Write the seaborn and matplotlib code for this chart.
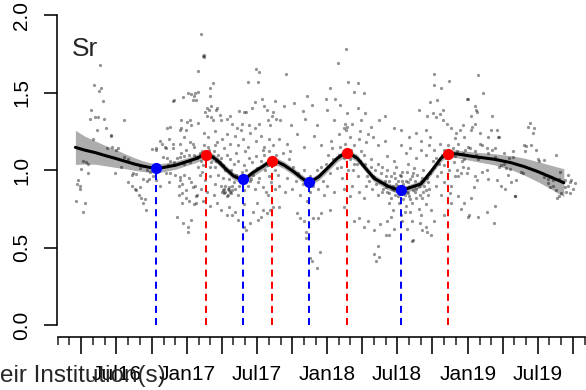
import numpy as np
import pandas as pd
import matplotlib
matplotlib.use("Agg")
import matplotlib.pyplot as plt
import matplotlib.dates as mdates
from matplotlib.ticker import FuncFormatter
import seaborn as sns

# all x values are months counted from 1 Jan 2016

# raw observations (month, Sr)
obs_2016 = [
    (2.5, 0.80), (2.6, 0.91), (2.7, 0.935), (2.85, 0.88), (2.9, 0.90), (3.0, 1.005), (3.1, 1.06), (3.15, 0.73),
    (3.3, 0.79), (3.4, 1.05), (3.6, 0.98), (3.6, 1.04), (3.7, 1.33), (3.8, 1.39), (4.0, 1.20), (4.05, 1.55),
    (4.2, 1.34), (4.3, 1.26), (4.4, 1.34), (4.5, 1.51), (4.56, 1.68), (4.7, 1.53), (4.86, 1.445), (4.95, 1.33),
    (5.1, 1.27), (5.2, 1.14), (5.5, 1.225), (5.55, 1.22), (5.6, 1.15), (5.86, 0.98), (6.0, 1.13), (6.1, 1.14),
    (6.4, 1.02), (6.6, 1.085), (6.66, 1.32), (7.0, 1.07), (7.0, 0.925), (7.3, 0.90), (7.3, 0.97), (7.4, 0.98),
    (7.6, 0.88), (7.7, 0.975), (7.7, 0.87), (7.9, 0.84), (8.0, 1.01), (8.0, 0.89), (8.1, 0.82), (8.25, 0.945),
    (8.3, 0.785), (8.4, 0.81), (8.5, 0.74), (8.6, 1.0), (8.6, 0.93), (8.8, 0.94), (8.9, 0.99), (9.0, 1.135),
    (9.15, 0.96), (9.4, 1.14), (9.4, 1.13), (9.4, 0.935), (9.7, 1.19), (9.7, 0.90), (9.9, 1.17), (9.95, 1.085),
    (10.1, 1.15), (10.25, 1.14), (10.25, 0.98), (10.3, 1.271), (10.5, 1.20), (10.5, 0.925), (10.6, 1.277),
    (10.8, 1.447), (10.8, 1.14), (10.8, 1.17), (10.9, 1.45), (11.4, 1.258), (11.4, 1.17), (11.4, 1.085),
    (11.4, 0.955), (11.5, 1.32), (11.55, 1.269), (11.7, 1.47), (11.7, 0.66), (11.8, 1.21), (11.95, 1.13),
    (11.95, 0.87), (11.95, 1.26), (10.3, 1.08), (10.6, 1.06), (10.9, 1.05), (11.2, 1.075), (11.5, 1.11),
    (11.8, 1.09), (10.9, 1.03), (11.8, 1.04), (10.4, 1.03), (10.6, 0.98), (11.0, 0.965), (11.4, 0.935),
    (11.6, 0.91), (11.8, 0.965), (11.3, 0.90), (11.3, 0.84), (11.6, 0.85), (11.9, 0.82), (11.6, 0.79), (11.2, 0.70),
]

obs_2017 = [
    (12.0, 1.312), (12.1, 1.495), (12.1, 0.63), (12.1, 0.60), (12.3, 1.323), (12.3, 1.18), (12.4, 1.29),
    (12.4, 1.49), (12.4, 0.68), (12.5, 1.45), (12.5, 1.17), (12.5, 0.89), (12.6, 1.48), (12.6, 1.15),
    (12.7, 1.495), (12.8, 1.45), (12.8, 1.085), (12.8, 0.83), (12.8, 0.79), (13.0, 1.305), (13.0, 1.505),
    (13.0, 1.64), (12.2, 0.95), (12.4, 0.92), (12.7, 0.90), (12.9, 0.84), (12.3, 1.05), (12.6, 1.10),
    (12.9, 1.08), (12.2, 0.80), (12.6, 0.78), (12.2, 1.10),
    (13.2, 1.875), (13.4, 1.735), (13.5, 1.74), (13.5, 1.73), (14.2, 1.56), (14.0, 1.53), (14.0, 1.48),
    (17.2, 1.565), (17.9, 1.65), (18.2, 1.63), (18.05, 1.565),
    (13.7, 1.40), (13.9, 1.39), (14.1, 1.41), (14.5, 1.39), (14.6, 1.40), (16.5, 1.38), (16.85, 1.375),
    (17.1, 1.375), (17.6, 1.40), (17.8, 1.44), (18.4, 1.46), (18.6, 1.41), (18.85, 1.39), (19.4, 1.375),
    (19.5, 1.445), (13.6, 1.375), (13.7, 1.35), (14.1, 1.34), (14.2, 1.32), (14.8, 1.355), (14.9, 1.32),
    (15.4, 1.33), (15.7, 1.35), (15.9, 1.30), (16.3, 1.27), (16.6, 1.26), (16.7, 1.30), (17.3, 1.29),
    (17.8, 1.27), (18.2, 1.30), (18.9, 1.32), (19.1, 1.29), (19.3, 1.35), (19.6, 1.33),
    (13.5, 1.24), (13.8, 1.21), (14.4, 1.25), (15.0, 1.20), (15.4, 1.23), (15.7, 1.17), (16.1, 1.22),
    (16.4, 1.16), (16.8, 1.20), (17.2, 1.15), (17.4, 1.24), (17.9, 1.19), (18.3, 1.22), (18.6, 1.15),
    (19.0, 1.20), (19.4, 1.16), (14.4, 1.16), (15.2, 1.14),
    (13.1, 1.11), (13.8, 1.08), (14.2, 1.09), (14.5, 1.06), (14.8, 1.05), (15.1, 1.03), (15.4, 1.10),
    (15.7, 1.07), (16.0, 1.04), (16.4, 1.06), (16.9, 1.03), (17.3, 1.08), (17.6, 1.05), (17.9, 1.09),
    (18.3, 1.06), (18.6, 1.10), (18.9, 1.03), (19.3, 1.05), (13.4, 1.03), (14.0, 1.02),
    (13.1, 0.97), (13.6, 0.935), (14.0, 0.96), (14.4, 0.91), (14.9, 0.90), (15.2, 0.88), (15.3, 0.86),
    (15.6, 0.87), (15.8, 0.85), (16.1, 0.88), (16.4, 0.84), (15.3, 0.90), (15.0, 0.86), (15.9, 0.90),
    (16.7, 0.92), (17.2, 0.90), (17.5, 0.94), (17.8, 0.88), (18.1, 0.92), (18.5, 0.89), (18.8, 0.86),
    (19.2, 0.92), (19.5, 0.88), (18.9, 0.84), (13.7, 0.86), (14.3, 0.84), (13.2, 0.88),
    (13.4, 0.80), (14.0, 0.77), (14.6, 0.79), (14.9, 0.74), (15.6, 0.76), (16.1, 0.73), (16.9, 0.78),
    (17.7, 0.73), (18.3, 0.70), (18.5, 0.74), (18.85, 0.72), (19.1, 0.74), (19.4, 0.76), (18.0, 0.79),
    (15.4, 0.71), (15.85, 0.71), (16.4, 0.68), (17.1, 0.61), (16.9, 0.63), (18.1, 0.68), (17.4, 0.66),
    (15.1, 0.87), (15.2, 0.85), (15.5, 0.88), (15.5, 0.84), (15.7, 0.86), (15.9, 0.87), (15.4, 0.83),
    (15.6, 0.89), (13.3, 1.12), (13.6, 1.07), (13.9, 1.13), (14.3, 1.12), (13.2, 1.06), (14.7, 1.10),
    (13.0, 1.02), (13.3, 0.99), (13.5, 1.16), (13.8, 1.15), (14.1, 1.05), (14.4, 1.02), (14.7, 0.97),
    (14.9, 1.08), (15.1, 0.95), (15.3, 1.00), (15.6, 0.94), (15.8, 1.00), (16.0, 0.92), (16.2, 0.97),
    (16.5, 0.90), (16.7, 0.99), (16.9, 0.87), (17.1, 1.00), (17.4, 0.93), (17.7, 0.97), (18.0, 1.01),
    (18.2, 0.95), (18.5, 1.13), (18.7, 1.00), (19.0, 0.96), (19.2, 1.08), (19.5, 1.00), (14.6, 1.18),
    (16.2, 1.11), (17.0, 1.12),
    (20.5, 1.62), (22.3, 1.48), (23.9, 1.46),
    (20.3, 1.41), (21.2, 1.43), (21.9, 1.38), (22.7, 1.42), (20.0, 1.32), (20.9, 1.29), (22.1, 1.33),
    (23.1, 1.29), (19.9, 1.20), (20.6, 1.17), (21.4, 1.23), (22.0, 1.15), (22.9, 1.22), (23.5, 1.16),
    (19.7, 1.06), (20.1, 1.04), (20.7, 1.07), (21.1, 1.02), (21.5, 0.98), (22.0, 1.00), (22.5, 0.96),
    (23.1, 1.00), (23.5, 1.02), (23.9, 1.04), (19.9, 0.90), (20.4, 0.86), (21.0, 0.88), (21.7, 0.84),
    (22.5, 0.86), (23.2, 0.88), (23.7, 0.84), (22.3, 0.80), (19.9, 0.76), (21.4, 0.72), (21.7, 0.69),
    (22.0, 0.67), (22.8, 0.69), (23.2, 0.69), (23.5, 0.72), (22.2, 0.60), (22.2, 0.56), (22.5, 0.43),
    (22.7, 0.41), (23.1, 0.37), (23.4, 0.47), (19.0, 1.12), (19.6, 1.10), (20.2, 1.11), (19.8, 0.97),
    (20.6, 0.95), (21.3, 0.93), (22.8, 0.90), (23.6, 0.93), (21.9, 0.91), (20.8, 1.12),
]

obs_2018 = [
    (25.6, 1.78), (24.9, 1.69), (25.8, 1.57), (24.2, 1.53), (26.6, 1.56), (26.3, 1.505), (27.1, 1.495),
    (24.7, 1.46), (24.0, 1.39), (25.1, 1.42), (25.7, 1.37), (26.6, 1.40), (27.2, 1.37), (28.4, 1.32),
    (24.6, 1.32), (25.4, 1.27), (26.1, 1.30), (26.9, 1.32), (27.7, 1.28), (28.9, 1.35), (25.6, 1.26),
    (25.5, 1.30), (25.7, 1.28), (24.3, 1.19), (25.0, 1.23), (25.5, 1.17), (25.9, 1.21), (26.3, 1.16),
    (26.7, 1.20), (27.3, 1.18), (27.9, 1.21), (28.3, 1.16), (28.9, 1.19), (26.8, 1.25), (27.5, 1.23),
    (24.5, 1.07), (25.0, 1.10), (25.4, 1.08), (25.9, 1.07), (26.4, 1.09), (26.8, 1.06), (27.2, 1.04),
    (27.7, 1.02), (28.1, 1.00), (28.6, 0.98), (29.0, 0.96), (26.5, 1.04), (27.1, 1.10), (27.7, 1.07),
    (28.3, 1.04), (28.7, 1.02), (25.2, 1.02), (24.2, 0.98), (26.2, 1.00), (28.0, 0.955), (28.9, 0.93),
    (24.0, 0.90), (24.6, 0.86), (25.4, 0.88), (26.1, 0.90), (26.7, 0.86), (27.3, 0.90), (27.8, 0.88),
    (28.3, 0.84), (28.7, 0.86), (29.0, 0.89), (27.1, 0.82), (25.9, 0.83), (24.2, 0.74), (26.3, 0.67),
    (26.7, 0.69), (27.1, 0.63), (27.5, 0.67), (28.0, 0.61), (28.5, 0.65), (29.0, 0.58), (25.4, 0.76),
    (28.3, 0.51), (28.0, 0.46), (28.4, 0.44), (28.2, 0.41),
    (24.1, 1.10), (24.4, 1.14), (24.8, 1.01), (25.1, 1.15), (25.3, 0.95), (25.6, 1.13), (25.8, 1.00),
    (26.0, 1.13), (26.3, 1.04), (26.6, 0.96), (26.9, 1.12), (27.4, 0.96), (27.6, 0.93), (27.9, 0.96),
    (28.2, 0.91), (28.5, 0.92), (28.8, 0.88),
    (33.1, 1.62), (34.4, 1.575), (33.1, 1.55), (33.7, 1.53), (32.8, 1.44), (33.4, 1.45), (33.85, 1.39),
    (31.85, 1.39), (32.5, 1.35), (33.0, 1.37), (33.3, 1.34), (33.6, 1.36), (33.9, 1.32), (34.2, 1.30),
    (34.6, 1.27), (35.0, 1.24), (35.3, 1.26), (34.9, 1.205), (35.7, 1.21), (30.3, 1.26), (31.0, 1.21),
    (31.6, 1.24), (32.0, 1.19), (32.4, 1.26), (32.8, 1.21), (29.7, 1.27),
    (29.1, 1.09), (29.7, 1.06), (30.3, 1.16), (30.7, 1.11), (31.1, 1.14), (31.6, 1.08), (32.0, 1.13),
    (32.4, 1.10), (32.7, 1.16), (33.1, 1.13), (33.6, 1.17), (34.0, 1.13), (34.3, 1.16), (34.7, 1.14),
    (35.2, 1.17), (35.6, 1.11), (34.9, 1.09), (35.7, 1.07),
    (29.1, 1.00), (29.4, 0.96), (29.7, 0.98), (30.0, 0.93), (30.3, 0.96), (30.5, 0.91), (30.8, 0.99),
    (31.1, 0.94), (31.4, 0.90), (31.7, 0.97), (32.0, 0.93), (32.2, 1.00), (32.5, 0.95), (32.8, 0.98),
    (33.1, 1.02), (33.4, 0.96), (33.7, 0.99), (34.0, 1.03), (34.4, 1.00), (34.9, 0.96), (35.4, 0.98),
    (29.6, 0.90), (30.1, 0.89), (30.7, 0.93), (31.2, 0.96), (31.8, 0.90), (32.4, 0.87), (32.6, 0.92),
    (29.25, 0.93), (30.4, 0.99), (31.0, 0.89), (31.5, 0.93), (32.1, 0.95), (33.3, 0.90), (34.0, 0.92),
    (34.6, 0.90),
    (29.1, 0.86), (29.4, 0.82), (29.8, 0.84), (30.1, 0.79), (30.4, 0.85), (30.7, 0.77), (31.0, 0.83),
    (31.2, 0.79), (31.5, 0.86), (31.8, 0.75), (32.1, 0.82), (32.4, 0.78), (32.6, 0.84), (32.9, 0.74),
    (29.6, 0.74), (30.3, 0.71), (31.1, 0.73), (32.0, 0.71), (33.7, 0.84), (34.6, 0.79), (35.4, 0.75),
    (29.7, 0.87), (30.8, 0.86), (32.2, 0.86),
    (29.1, 0.67), (29.7, 0.62), (29.25, 0.58), (30.4, 0.67), (30.8, 0.62), (31.2, 0.67), (32.1, 0.61),
    (32.4, 0.63), (32.5, 0.60), (31.2, 0.54), (33.1, 0.67), (34.0, 0.71), (31.3, 0.55), (32.9, 0.58),
    (34.5, 0.85), (35.2, 0.83), (35.7, 0.79), (35.05, 1.0), (35.6, 1.02), (35.2, 0.96), (35.9, 1.456),
    (35.6, 1.29), (35.9, 0.98),
    (29.5, 0.88), (29.9, 0.91), (30.2, 0.86), (30.6, 0.88), (30.9, 0.85), (31.3, 0.87), (30.0, 0.83),
    (30.5, 0.81), (29.3, 0.79), (31.6, 0.82), (30.2, 0.97), (29.9, 1.02), (30.9, 1.04), (31.4, 1.01),
    (29.3, 0.85), (29.8, 0.95), (30.0, 0.90), (30.4, 0.93), (30.6, 0.84), (30.9, 0.92), (31.1, 0.81),
    (31.3, 0.98), (31.6, 0.88), (31.9, 0.84), (32.3, 0.90), (32.7, 0.88), (33.0, 1.06), (33.3, 1.08),
    (33.5, 1.04), (33.8, 1.10), (34.1, 1.08), (34.5, 1.10), (34.8, 1.05), (35.1, 1.12), (35.5, 1.06),
    (35.8, 1.13), (29.4, 0.70), (30.6, 0.73), (31.9, 0.66),
]

obs_2019 = [
    (36.0, 1.46), (36.7, 1.39), (37.3, 1.495), (36.9, 1.61), (36.6, 1.41), (36.8, 1.375), (38.05, 1.35),
    (36.3, 1.26), (38.5, 1.26), (38.6, 1.215), (37.0, 1.24), (37.7, 1.21), (36.4, 1.28), (36.3, 1.35),
    (36.6, 1.30), (38.0, 1.26), (36.0, 1.15), (36.6, 1.12), (37.2, 1.16), (37.7, 1.11), (38.3, 1.14),
    (36.9, 1.07), (36.2, 1.14), (36.7, 1.10), (37.0, 1.17), (37.6, 1.14), (36.0, 1.01), (36.6, 0.96),
    (37.2, 0.99), (37.7, 0.94), (36.8, 0.935), (37.6, 1.0), (36.5, 0.89), (38.5, 0.935), (36.1, 0.71),
    (36.9, 0.70), (37.6, 0.73), (38.2, 0.66), (38.3, 0.77), (40.0, 0.83), (36.3, 0.82), (36.0, 0.70),
    (38.05, 1.13), (38.3, 1.085), (39.05, 1.11), (39.5, 1.075), (39.9, 1.085), (40.8, 1.16),
    (41.3, 1.305), (41.1, 1.28), (41.65, 1.27), (41.55, 1.24), (38.7, 1.215), (41.0, 1.155), (41.4, 1.16),
    (41.8, 1.13), (40.85, 1.12), (39.85, 1.125), (43.5, 1.10), (42.0, 1.07), (42.1, 1.055),
    (38.85, 1.03), (39.1, 1.04), (38.7, 1.02), (39.3, 1.01), (39.6, 1.005), (39.4, 0.97), (39.7, 0.925),
    (40.1, 0.935), (40.55, 0.99), (40.7, 0.98), (38.85, 0.90), (39.2, 0.88), (40.0, 0.835),
    (42.3, 0.98), (42.55, 0.955), (42.85, 0.945), (43.1, 0.955), (43.85, 0.99), (42.85, 0.915),
    (43.0, 0.89), (43.3, 0.90), (43.55, 0.87), (44.0, 0.85), (44.3, 0.89), (44.6, 0.895), (44.85, 0.935),
    (45.15, 0.915), (45.0, 0.875), (44.7, 0.85), (44.4, 0.855), (43.65, 0.82), (43.8, 0.83), (44.3, 0.935),
    (43.3, 0.935), (43.8, 0.945), (44.6, 0.97), (44.75, 0.925), (42.5, 1.065),
]

# smoothed trend with its confidence half-width
curve_month = [2.49, 3.3, 4.2, 5.0, 5.9, 6.8, 7.6, 8.2, 8.8, 9.35, 9.8, 10.28, 11.1, 12.0, 12.85, 13.25,
               13.65, 14.1, 14.57, 15.28, 16.0, 16.4, 16.77, 17.15, 17.57, 18.43, 18.9, 19.3, 19.8, 20.3,
               21.14, 21.85, 22.1, 22.42, 22.8, 23.28, 24.14, 24.85, 25.3, 25.7, 26.1, 26.57, 27.28, 28.0,
               28.85, 29.14, 29.7, 30.28, 30.7, 31.13, 32.0, 32.85, 33.7, 33.95, 34.28, 34.7, 35.13, 36.57,
               38.28, 39.7, 40.85, 42.0, 43.13, 44.2]
curve_value = [1.146, 1.128, 1.112, 1.094, 1.075, 1.055, 1.037, 1.026, 1.017, 1.012, 1.014, 1.020, 1.032,
               1.054, 1.075, 1.090, 1.097, 1.088, 1.065, 1.011, 0.961, 0.947, 0.940, 0.952, 0.979, 1.020,
               1.044, 1.056, 1.050, 1.032, 0.989, 0.946, 0.933, 0.925, 0.934, 0.957, 1.021, 1.075, 1.098,
               1.107, 1.097, 1.075, 1.010, 0.946, 0.910, 0.897, 0.880, 0.871, 0.877, 0.888, 0.910, 0.989,
               1.075, 1.092, 1.103, 1.106, 1.103, 1.086, 1.069, 1.047, 1.021, 0.989, 0.953, 0.918]
curve_half = [0.110, 0.090, 0.075, 0.066, 0.058, 0.047, 0.040, 0.035, 0.031, 0.029, 0.028, 0.027, 0.026,
              0.025, 0.025, 0.025, 0.025, 0.024, 0.024, 0.023, 0.023, 0.023, 0.023, 0.023, 0.023, 0.023,
              0.023, 0.023, 0.023, 0.023, 0.023, 0.023, 0.023, 0.023, 0.023, 0.023, 0.023, 0.023, 0.023,
              0.023, 0.023, 0.023, 0.023, 0.022, 0.022, 0.022, 0.022, 0.022, 0.022, 0.022, 0.023, 0.023,
              0.023, 0.023, 0.024, 0.024, 0.025, 0.029, 0.036, 0.045, 0.055, 0.065, 0.077, 0.090]

# local maxima (red) and minima (blue) of the trend
peak_month = [13.65, 19.3, 25.7, 34.28]
peak_value = [1.097, 1.056, 1.107, 1.103]
trough_month = [9.35, 16.77, 22.42, 30.28]
trough_value = [1.012, 0.940, 0.925, 0.871]


def to_date(months):
    return pd.Timestamp("2016-01-01") + pd.to_timedelta(np.asarray(months, dtype=float) * 30.4375, unit="D")


obs = pd.DataFrame(obs_2016 + obs_2017 + obs_2018 + obs_2019, columns=["month", "Sr"])
obs["date"] = to_date(obs["month"])
curve_dates = to_date(curve_month)
lo = np.array(curve_value) - np.array(curve_half)
hi = np.array(curve_value) + np.array(curve_half)

sns.set_style("ticks")
plt.rcParams["font.family"] = ["Liberation Sans", "DejaVu Sans"]

fig = plt.figure(figsize=(5.86, 3.9), dpi=100)
ax = fig.add_axes([57 / 586, 52.6 / 390, 529 / 586, 334.8 / 390])

ax.fill_between(curve_dates, lo, hi, color="#adadad", linewidth=0, zorder=1)
sns.scatterplot(data=obs, x="date", y="Sr", s=5.5, color="black", alpha=0.42, linewidth=0, ax=ax, zorder=2)
sns.lineplot(x=curve_dates, y=curve_value, color="black", linewidth=2.2, ax=ax, zorder=3)

ax.vlines(to_date(peak_month), 0, peak_value, colors="red", linewidth=1.45,
          linestyles=[(0, (3.5, 2.5))], zorder=4)
ax.vlines(to_date(trough_month), 0, trough_value, colors="blue", linewidth=1.45,
          linestyles=[(0, (3.5, 2.5))], zorder=4)
sns.scatterplot(x=to_date(peak_month), y=peak_value, color="red", s=65, linewidth=0, ax=ax, zorder=5)
sns.scatterplot(x=to_date(trough_month), y=trough_value, color="blue", s=65, linewidth=0, ax=ax, zorder=5)

ax.set_xlim(pd.Timestamp("2016-01-29"), pd.Timestamp("2019-11-04"))
ax.set_ylim(-0.08, 2.08)
ax.set_xlabel("")
ax.set_ylabel("")

for side in ["top", "right"]:
    ax.spines[side].set_visible(False)
for side in ["left", "bottom"]:
    ax.spines[side].set_linewidth(1.15)
    ax.spines[side].set_color("black")
ax.spines["left"].set_bounds(0, 2)
ax.spines["bottom"].set_bounds(mdates.date2num(pd.Timestamp("2016-02-01")),
                               mdates.date2num(pd.Timestamp("2019-11-01")))

ax.set_yticks([0, 0.5, 1.0, 1.5, 2.0])
ax.set_yticklabels(["0.0", "0.5", "1.0", "1.5", "2.0"])
ax.xaxis.set_major_locator(mdates.MonthLocator(bymonth=[1, 4, 7, 10]))
ax.xaxis.set_minor_locator(mdates.MonthLocator())


def month_label(x, pos):
    d = mdates.num2date(x)
    return d.strftime("%b%y") if d.month in (1, 7) else ""


ax.xaxis.set_major_formatter(FuncFormatter(month_label))
ax.tick_params(axis="x", which="major", length=12.2, width=1.15, labelsize=15, pad=8, colors="black")
ax.tick_params(axis="x", which="minor", length=5.8, width=1.15)
ax.tick_params(axis="y", length=9.4, width=1.15, labelsize=15, pad=9, labelrotation=90, colors="black")
for lbl in ax.get_yticklabels():
    lbl.set_va("center")

fig.text(72 / 586, 1 - 56 / 390, "Sr", fontsize=19, ha="left", va="baseline")
fig.text(166 / 586, 1 - 382 / 390, "eir Institution(s)", fontsize=17.5, ha="right", va="baseline",
         family=["Liberation Sans", "DejaVu Sans"])

fig.savefig("out.png", dpi=100)
